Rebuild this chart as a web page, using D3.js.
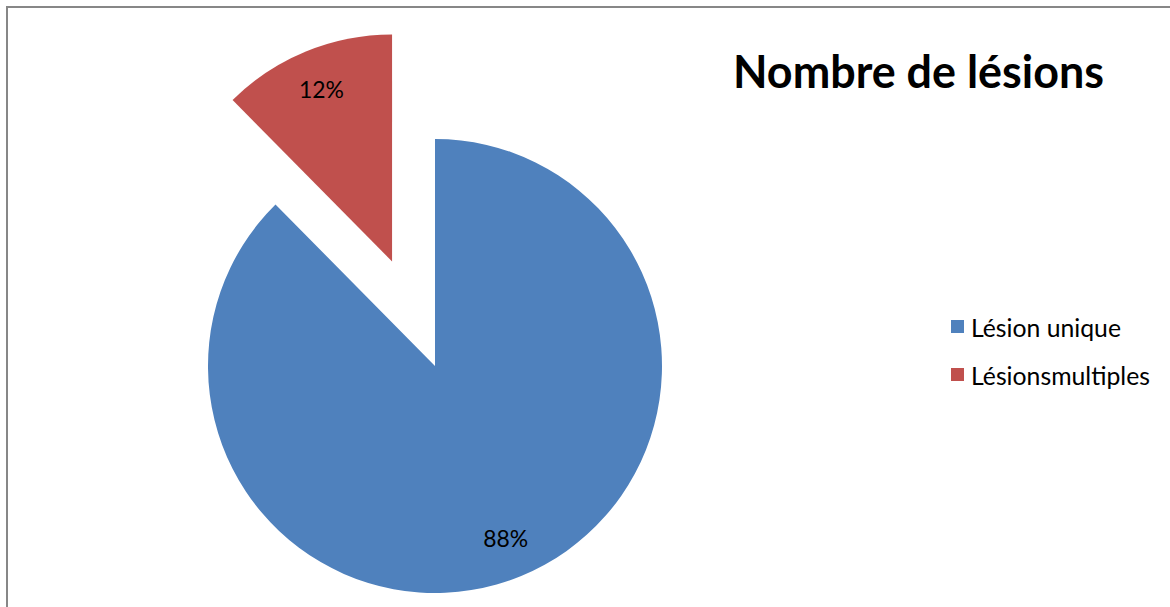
<!DOCTYPE html>
<html>
<head>
<meta charset="utf-8">
<script src="https://cdn.jsdelivr.net/npm/d3@7"></script>
<style>
    html, body { margin: 0; padding: 0; background: #fff; }
    svg { display: block; }
</style>
</head>
<body>
<svg id="chart" width="1170" height="607"></svg>
<script>
"use strict";

const title = "Nombre de lésions";
const categories = ["Lésion unique", "Lésionsmultiples"];
const values = [87.6, 12.4];
const valueLabels = ["88%", "12%"];
const colors = ["#4F81BD", "#C0504D"];

{
    const svg = d3.select("#chart"),
        cx = 435,
        cy = 366,
        radius = 227,
        explodeDist = [0, 113],
        font = "Lato, 'Open Sans', sans-serif";

    // fit a text element's font size so it spans the given width
    function fit(sel, width) {
        const node = sel.node();
        const w = node.getComputedTextLength();
        const size = parseFloat(sel.attr("font-size"));
        sel.attr("font-size", size * width / w);
        return sel;
    }

    svg.append("rect")
        .attr("x", 7)
        .attr("y", 7)
        .attr("width", 1300)
        .attr("height", 800)
        .attr("fill", "#fff")
        .attr("stroke", "#878787")
        .attr("stroke-width", 2);

    const pie = d3.pie().sort(null).value(d => d);
    const arcs = pie(values);

    const arc = d3.arc().innerRadius(0).outerRadius(radius);
    const labelArc = d3.arc().innerRadius(radius * 0.82).outerRadius(radius * 0.82);

    const g = svg.append("g").attr("transform", `translate(${cx},${cy})`);

    const slices = g.selectAll("g.slice")
        .data(arcs)
        .join("g")
        .attr("class", "slice")
        .attr("transform", (d, i) => {
            const mid = (d.startAngle + d.endAngle) / 2;
            const dx = Math.sin(mid) * explodeDist[i],
                dy = -Math.cos(mid) * explodeDist[i];
            return `translate(${dx},${dy})`;
        });

    slices.append("path")
        .attr("d", arc)
        .attr("fill", (d, i) => colors[i]);

    slices.append("text")
        .attr("transform", d => `translate(${labelArc.centroid(d)})`)
        .attr("text-anchor", "middle")
        .attr("dominant-baseline", "central")
        .attr("font-family", font)
        .attr("font-size", 20)
        .attr("fill", "#000")
        .text((d, i) => valueLabels[i])
        .each(function() { fit(d3.select(this), 45); });

    fit(svg.append("text")
        .attr("x", 733)
        .attr("y", 88)
        .attr("font-family", font)
        .attr("font-weight", "bold")
        .attr("font-size", 36)
        .attr("fill", "#000")
        .text(title), 371);

    const legend = svg.append("g")
        .selectAll("g")
        .data(categories)
        .join("g")
        .attr("transform", (d, i) => `translate(951,${327 + i * 48})`);

    legend.append("rect")
        .attr("x", 0)
        .attr("y", -7)
        .attr("width", 13)
        .attr("height", 13)
        .attr("fill", (d, i) => colors[i]);

    const legendWidths = [150, 179];
    legend.append("text")
        .attr("x", 20)
        .attr("y", 0)
        .attr("dominant-baseline", "central")
        .attr("font-family", font)
        .attr("font-size", 20)
        .attr("fill", "#000")
        .text(d => d)
        .each(function(d, i) { fit(d3.select(this), legendWidths[i]); });
}
</script>
</body>
</html>
